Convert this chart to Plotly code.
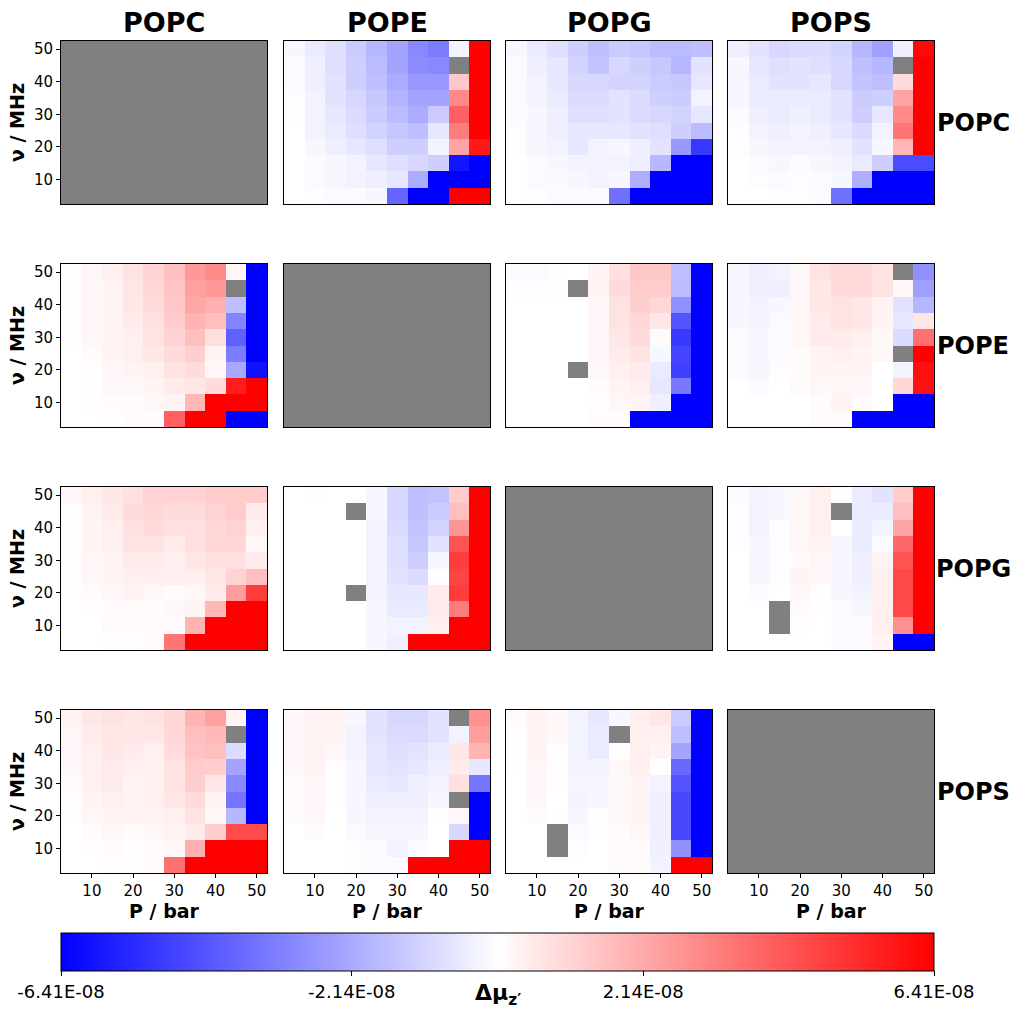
import plotly.graph_objects as go

# Grid of simulated conditions
pressure = [5, 10, 15, 20, 25, 30, 35, 40, 45, 50]      # P / bar (columns)
frequency = [5, 10, 15, 20, 25, 30, 35, 40, 45, 50]     # nu / MHz (rows)
lipids = ["POPC", "POPE", "POPG", "POPS"]

colorbar_ticks = [-6.41, -2.14, 2.14, 6.41]             # in units of 1e-8
colorbar_ticktext = ["-6.41E-08", "-2.14E-08", "2.14E-08", "6.41E-08"]
zlim = 6.41

N = None  # missing value

# Delta mu_z' (units of 1e-8). Rows listed from nu = 50 MHz down to nu = 5 MHz.
dmu_popc_pope = [
    [-0.2, -0.5, -0.8, -1.3, -1.8, -2.3, -3.0, -3.3, -0.3, 7.5],
    [-0.1, -0.4, -0.8, -1.2, -1.7, -2.3, -2.9, -3.0, N, 7.5],
    [-0.1, -0.4, -0.7, -1.2, -1.6, -2.1, -2.6, -2.6, 1.4, 7.5],
    [-0.05, -0.3, -0.7, -1.0, -1.4, -1.9, -2.3, -2.3, 3.0, 7.5],
    [-0.05, -0.3, -0.6, -0.9, -1.3, -1.7, -2.1, -1.3, 4.0, 7.5],
    [0.0, -0.3, -0.5, -0.8, -1.1, -1.4, -1.6, -0.6, 3.3, 7.5],
    [0.0, -0.2, -0.4, -0.6, -0.8, -1.2, -1.2, -0.3, 2.3, 5.8],
    [0.0, -0.1, -0.2, -0.3, -0.6, -0.8, -1.0, -1.2, -5.9, -7.5],
    [0.0, -0.1, -0.2, -0.3, -0.4, -0.6, -2.1, -7.5, -7.5, -7.5],
    [0.0, -0.05, -0.1, -0.1, -0.2, -3.9, -7.5, -7.5, 7.5, 7.5],
]
dmu_popc_popg = [
    [-0.2, -0.5, -0.8, -1.2, -1.6, -1.3, -1.4, -1.7, -1.7, -1.6],
    [-0.1, -0.4, -0.6, -1.1, -1.5, -1.0, -1.2, -1.4, -1.8, -0.7],
    [-0.1, -0.3, -0.6, -1.0, -1.0, -1.1, -1.1, -1.3, -1.4, -0.6],
    [-0.1, -0.3, -0.5, -0.9, -0.9, -0.7, -0.9, -1.2, -1.3, -0.3],
    [-0.1, -0.2, -0.4, -0.8, -0.8, -0.7, -0.9, -1.0, -1.1, -0.6],
    [-0.05, -0.2, -0.4, -0.6, -0.6, -0.6, -0.7, -0.8, -1.2, -1.7],
    [-0.05, -0.2, -0.3, -0.6, -0.3, -0.2, -0.4, -0.7, -2.6, -5.0],
    [0.0, -0.1, -0.2, -0.3, -0.3, -0.3, -0.4, -1.8, -7.5, -7.5],
    [0.0, -0.1, -0.15, -0.2, -0.3, -0.2, -2.0, -7.5, -7.5, -7.5],
    [0.0, -0.05, -0.1, -0.1, -0.1, -3.6, -7.5, -7.5, -7.5, -7.5],
]
dmu_popc_pops = [
    [-0.4, -0.7, -1.0, -0.9, -0.9, -1.1, -1.8, -2.4, -0.4, 6.2],
    [-0.2, -0.6, -0.8, -0.7, -0.8, -1.0, -1.6, -1.8, N, 7.5],
    [-0.2, -0.5, -0.7, -0.7, -0.6, -1.0, -1.5, -1.6, 0.9, 7.5],
    [-0.2, -0.5, -0.5, -0.5, -0.5, -0.7, -1.3, -1.2, 2.3, 7.5],
    [-0.1, -0.4, -0.5, -0.4, -0.5, -0.7, -1.2, -0.6, 3.0, 7.5],
    [-0.05, -0.3, -0.4, -0.3, -0.4, -0.6, -0.9, -0.3, 3.5, 7.5],
    [-0.05, -0.2, -0.3, -0.3, -0.3, -0.4, -0.7, -0.2, 1.8, 7.5],
    [0.0, -0.1, -0.2, -0.1, -0.2, -0.3, -0.5, -1.2, -4.5, -4.5],
    [0.0, -0.05, -0.1, -0.05, -0.1, -0.2, -2.0, -7.5, -7.5, -7.5],
    [0.0, 0.0, -0.05, -0.05, -0.1, -3.6, -7.5, -7.5, -7.5, -7.5],
]
dmu_pope_popc = [
    [0.05, 0.2, 0.4, 0.7, 1.1, 1.6, 2.6, 3.0, 0.2, -7.5],
    [0.05, 0.2, 0.3, 0.6, 1.0, 1.5, 2.4, 2.6, N, -7.5],
    [0.05, 0.2, 0.3, 0.6, 0.9, 1.4, 2.2, 2.0, -1.6, -7.5],
    [0.05, 0.2, 0.3, 0.5, 0.8, 1.3, 1.9, 1.6, -3.1, -7.5],
    [0.05, 0.2, 0.3, 0.4, 0.7, 1.1, 1.6, 0.8, -4.0, -7.5],
    [0.0, 0.1, 0.3, 0.4, 0.6, 0.9, 1.2, 0.3, -3.3, -7.5],
    [0.0, 0.05, 0.2, 0.3, 0.4, 0.7, 0.9, 0.2, -2.2, -6.0],
    [0.0, 0.05, 0.2, 0.2, 0.3, 0.5, 0.6, 0.9, 5.7, 7.5],
    [0.0, 0.05, 0.1, 0.1, 0.2, 0.3, 1.8, 7.5, 7.5, 7.5],
    [0.0, 0.0, 0.05, 0.1, 0.1, 4.0, 7.5, 7.5, -7.5, -7.5],
]
dmu_pope_popg = [
    [-0.1, -0.1, -0.05, 0.0, 0.3, 0.8, 1.4, 1.4, -1.6, -7.5],
    [-0.05, -0.05, -0.05, N, 0.3, 0.9, 1.3, 1.3, -1.7, -7.5],
    [0.0, 0.0, 0.0, 0.0, 0.2, 0.7, 1.2, 1.0, -2.8, -7.5],
    [0.0, 0.0, 0.0, 0.0, 0.2, 0.7, 1.0, 0.6, -4.3, -7.5],
    [0.0, 0.0, 0.0, 0.0, 0.2, 0.6, 0.9, 0.1, -5.0, -7.5],
    [0.0, 0.0, 0.0, 0.0, 0.2, 0.5, 0.7, -0.2, -4.7, -7.5],
    [0.0, 0.0, 0.0, N, 0.2, 0.4, 0.5, -0.5, -4.8, -7.5],
    [0.0, 0.0, 0.0, 0.0, 0.1, 0.3, 0.4, -0.6, -3.4, -7.5],
    [0.0, 0.0, 0.0, 0.0, 0.05, 0.2, 0.3, -0.4, -7.5, -7.5],
    [0.0, 0.0, 0.0, 0.0, 0.1, 0.1, -7.5, -7.5, -7.5, -7.5],
]
dmu_pope_pops = [
    [-0.2, -0.4, -0.3, 0.2, 0.7, 0.9, 0.9, 0.7, N, -2.8],
    [-0.2, -0.4, -0.4, 0.2, 0.6, 0.9, 0.9, 0.7, 0.2, -2.4],
    [-0.2, -0.3, -0.2, 0.2, 0.6, 0.7, 0.6, 0.3, -0.7, -1.8],
    [-0.2, -0.3, -0.1, 0.2, 0.5, 0.7, 0.6, 0.3, -0.6, 0.6],
    [-0.1, -0.2, -0.1, 0.2, 0.5, 0.5, 0.4, 0.2, -0.9, 3.6],
    [-0.1, -0.2, -0.1, 0.1, 0.3, 0.4, 0.3, 0.2, N, 7.5],
    [-0.1, -0.2, -0.05, 0.1, 0.3, 0.3, 0.3, 0.0, -0.3, 6.0],
    [0.0, -0.1, 0.0, 0.1, 0.2, 0.2, 0.2, 0.0, 1.0, 6.0],
    [0.0, 0.0, 0.0, 0.0, 0.1, 0.3, 0.1, 0.0, -7.5, -7.5],
    [0.0, 0.0, 0.0, 0.0, 0.1, 0.1, -7.5, -7.5, -7.5, -7.5],
]
dmu_popg_popc = [
    [0.2, 0.4, 0.6, 0.8, 1.1, 1.1, 1.1, 1.3, 1.3, 1.3],
    [0.05, 0.3, 0.5, 0.9, 1.0, 0.9, 0.9, 1.1, 1.3, 0.5],
    [0.05, 0.3, 0.4, 0.8, 0.9, 0.8, 0.8, 1.0, 1.1, 0.4],
    [0.05, 0.3, 0.4, 0.7, 0.7, 0.5, 0.8, 1.0, 1.0, 0.2],
    [0.05, 0.2, 0.3, 0.5, 0.5, 0.4, 0.6, 0.8, 0.8, 0.5],
    [0.05, 0.2, 0.3, 0.4, 0.4, 0.4, 0.4, 0.6, 1.1, 1.6],
    [0.05, 0.1, 0.2, 0.3, 0.2, 0.1, 0.2, 0.5, 2.5, 4.9],
    [0.0, 0.05, 0.1, 0.1, 0.1, 0.2, 0.3, 1.8, 7.5, 7.5],
    [0.0, 0.0, 0.1, 0.1, 0.1, 0.1, 1.9, 7.5, 7.5, 7.5],
    [0.0, 0.0, 0.05, 0.05, 0.1, 3.5, 7.5, 7.5, 7.5, 7.5],
]
dmu_popg_pope = [
    [0.0, 0.05, 0.0, 0.0, -0.2, -1.0, -1.6, -1.5, 1.3, 7.5],
    [0.0, 0.0, 0.0, N, -0.2, -1.0, -1.6, -1.3, 1.6, 7.5],
    [0.0, 0.0, 0.0, 0.0, -0.3, -0.9, -1.5, -1.1, 2.7, 7.5],
    [0.0, 0.0, 0.0, 0.0, -0.3, -0.8, -1.4, -0.7, 4.3, 7.5],
    [0.0, 0.0, 0.0, 0.0, -0.3, -0.8, -1.2, -0.2, 4.9, 7.5],
    [0.0, 0.0, 0.0, 0.0, -0.3, -0.7, -0.9, 0.05, 4.7, 7.5],
    [0.0, 0.0, 0.0, N, -0.3, -0.6, -0.6, 0.5, 4.9, 7.5],
    [0.0, 0.0, 0.0, 0.0, -0.2, -0.5, -0.5, 0.5, 3.3, 7.5],
    [0.0, 0.0, 0.0, 0.0, -0.2, -0.3, -0.3, 0.4, 7.5, 7.5],
    [0.0, 0.0, 0.0, 0.0, -0.2, -0.4, 7.5, 7.5, 7.5, 7.5],
]
dmu_popg_pops = [
    [-0.1, -0.3, -0.2, 0.2, 0.4, 0.05, -0.5, -0.7, 1.3, 7.5],
    [-0.05, -0.3, -0.2, 0.2, 0.4, N, -0.5, -0.5, 1.6, 7.5],
    [-0.05, -0.3, -0.05, 0.2, 0.4, 0.0, -0.5, -0.3, 2.3, 7.5],
    [-0.05, -0.2, -0.05, 0.2, 0.3, -0.2, -0.5, -0.1, 3.8, 7.5],
    [0.0, -0.2, -0.05, 0.1, 0.2, -0.2, -0.4, 0.3, 4.3, 7.5],
    [0.0, -0.2, -0.05, 0.3, 0.2, -0.2, -0.4, 0.4, 4.6, 7.5],
    [0.0, -0.1, 0.0, 0.2, 0.05, -0.2, -0.3, 0.4, 4.6, 7.5],
    [0.0, 0.0, N, 0.1, 0.05, -0.1, -0.2, 0.4, 4.6, 7.5],
    [0.0, 0.0, N, 0.05, 0.0, -0.1, -0.1, 0.4, 2.8, 7.5],
    [0.0, 0.0, 0.0, 0.0, 0.0, -0.1, -0.1, 0.3, -7.5, -7.5],
]
dmu_pops_popc = [
    [0.3, 0.6, 0.7, 0.6, 0.7, 1.0, 1.9, 2.4, 0.3, -7.5],
    [0.2, 0.5, 0.6, 0.6, 0.6, 1.0, 1.6, 1.8, N, -7.5],
    [0.2, 0.4, 0.6, 0.5, 0.4, 0.9, 1.5, 1.6, -0.9, -7.5],
    [0.2, 0.4, 0.5, 0.4, 0.4, 0.7, 1.3, 1.2, -2.3, -7.5],
    [0.1, 0.4, 0.5, 0.3, 0.4, 0.7, 1.2, 0.6, -3.0, -7.5],
    [0.05, 0.3, 0.4, 0.3, 0.4, 0.6, 0.9, 0.3, -3.5, -7.5],
    [0.05, 0.2, 0.3, 0.3, 0.3, 0.4, 0.7, 0.2, -1.8, -7.5],
    [0.0, 0.1, 0.2, 0.1, 0.2, 0.3, 0.5, 1.2, 4.5, 4.5],
    [0.0, 0.05, 0.1, 0.05, 0.1, 0.2, 2.0, 7.5, 7.5, 7.5],
    [0.0, 0.0, 0.05, 0.05, 0.1, 3.6, 7.5, 7.5, 7.5, 7.5],
]
dmu_pops_pope = [
    [0.2, 0.3, 0.3, -0.2, -0.7, -1.0, -1.0, -0.7, N, 2.8],
    [0.2, 0.3, 0.3, -0.3, -0.7, -0.9, -0.9, -0.7, -0.3, 2.5],
    [0.2, 0.3, 0.2, -0.3, -0.6, -0.8, -0.7, -0.5, 0.6, 1.9],
    [0.2, 0.3, 0.05, -0.2, -0.6, -0.7, -0.6, -0.4, 0.5, -0.6],
    [0.1, 0.2, 0.05, -0.2, -0.5, -0.6, -0.4, -0.3, 0.8, -3.5],
    [0.1, 0.2, 0.05, -0.2, -0.4, -0.4, -0.4, -0.2, N, -7.5],
    [0.1, 0.2, 0.0, -0.2, -0.3, -0.3, -0.3, -0.05, 0.2, -7.5],
    [0.0, 0.1, 0.0, -0.1, -0.2, -0.2, -0.2, 0.0, -1.0, -7.5],
    [0.0, 0.0, 0.0, -0.05, -0.1, -0.3, -0.1, 0.0, 7.5, 7.5],
    [0.0, 0.0, 0.0, -0.05, -0.1, -0.1, 7.5, 7.5, 7.5, 7.5],
]
dmu_pops_popg = [
    [0.1, 0.3, 0.2, -0.3, -0.6, -0.2, 0.4, 0.6, -1.3, -7.5],
    [0.05, 0.3, 0.2, -0.3, -0.5, N, 0.4, 0.4, -1.6, -7.5],
    [0.05, 0.3, 0.05, -0.3, -0.5, 0.05, 0.4, 0.3, -2.3, -7.5],
    [0.05, 0.2, 0.05, -0.3, -0.3, 0.2, 0.4, 0.05, -3.8, -7.5],
    [0.0, 0.2, 0.05, -0.2, -0.2, 0.2, 0.3, -0.3, -4.3, -7.5],
    [0.0, 0.2, 0.0, -0.3, -0.2, 0.2, 0.3, -0.4, -4.6, -7.5],
    [0.0, 0.1, 0.05, -0.2, -0.05, 0.2, 0.3, -0.4, -4.6, -7.5],
    [0.0, 0.0, N, -0.1, -0.05, 0.1, 0.2, -0.4, -4.6, -7.5],
    [0.0, 0.0, N, -0.05, 0.0, 0.1, 0.1, -0.4, -2.8, -7.5],
    [0.0, 0.0, 0.0, 0.0, 0.0, 0.1, 0.1, -0.3, 7.5, 7.5],
]

# (row lipid, column lipid) -> data; diagonal pairs have no data
panels = {
    (0, 1): dmu_popc_pope, (0, 2): dmu_popc_popg, (0, 3): dmu_popc_pops,
    (1, 0): dmu_pope_popc, (1, 2): dmu_pope_popg, (1, 3): dmu_pope_pops,
    (2, 0): dmu_popg_popc, (2, 1): dmu_popg_pope, (2, 3): dmu_popg_pops,
    (3, 0): dmu_pops_popc, (3, 1): dmu_pops_pope, (3, 2): dmu_pops_popg,
}

W, H = 1011, 1009
col_px = [(61, 267), (284, 490), (506, 712), (728, 934)]
row_px = [(41, 204), (264, 427), (487, 650), (710, 873)]

bwr = [[0.0, "rgb(0,0,255)"], [0.5, "rgb(255,255,255)"], [1.0, "rgb(255,0,0)"]]
FONT = "DejaVu Sans"

fig = go.Figure()
layout = {}
first = True
for r in range(4):
    for c in range(4):
        k = r * 4 + c + 1
        xname = "xaxis" if k == 1 else f"xaxis{k}"
        yname = "yaxis" if k == 1 else f"yaxis{k}"
        xref = "x" if k == 1 else f"x{k}"
        yref = "y" if k == 1 else f"y{k}"
        x0, x1 = col_px[c]
        y0, y1 = row_px[r]
        layout[xname] = dict(
            domain=[x0 / W, x1 / W], anchor=yref, range=[2.5, 52.5],
            showgrid=False, zeroline=False, mirror=True, showline=True,
            linecolor="black", linewidth=1,
            tickvals=[10, 20, 30, 40, 50] if r == 3 else [],
            ticks="outside" if r == 3 else "", ticklen=4, tickcolor="black",
            showticklabels=(r == 3),
            tickfont=dict(family=FONT, size=15, color="black"),
            title=dict(text="<b>P / bar</b>", font=dict(family=FONT, size=19, color="black"),
                       standoff=2) if r == 3 else None,
        )
        layout[yname] = dict(
            domain=[1 - y1 / H, 1 - y0 / H], anchor=xref, range=[2.5, 52.5],
            showgrid=False, zeroline=False, mirror=True, showline=True,
            linecolor="black", linewidth=1,
            tickvals=[10, 20, 30, 40, 50] if c == 0 else [],
            ticks="outside" if c == 0 else "", ticklen=4, tickcolor="black",
            showticklabels=(c == 0),
            tickfont=dict(family=FONT, size=15, color="black"),
            title=dict(text="<b>ν / MHz</b>", font=dict(family=FONT, size=19, color="black"),
                       standoff=4) if c == 0 else None,
        )
        if (r, c) in panels:
            z = panels[(r, c)][::-1]
            fig.add_trace(go.Heatmap(
                x=pressure, y=frequency, z=z, xaxis=xref, yaxis=yref,
                colorscale=bwr, zmin=-zlim, zmax=zlim, hoverongaps=False,
                showscale=first,
                colorbar=dict(
                    orientation="h", x=(61 + 934) / 2 / W, xanchor="center",
                    y=1 - 933 / H, yanchor="top", len=(934 - 61) / W, lenmode="fraction",
                    thickness=38, thicknessmode="pixels", outlinecolor="black",
                    outlinewidth=1, xpad=0, ypad=0,
                    tickvals=colorbar_ticks, ticktext=colorbar_ticktext,
                    ticks="outside", ticklen=5, tickcolor="black",
                    tickfont=dict(family=FONT, size=18, color="black"),
                ),
            ))
            first = False
        else:
            # self-pair panels: empty axes showing only the grey background
            fig.add_trace(go.Scatter(x=[], y=[], xaxis=xref, yaxis=yref,
                                     mode="markers", showlegend=False))

annotations = []
for c, name in enumerate(lipids):
    x0, x1 = col_px[c]
    annotations.append(dict(
        text=f"<b>{name}</b>", x=(x0 + x1) / 2 / W, y=1 - 22 / H, xref="paper", yref="paper",
        xanchor="center", yanchor="middle", showarrow=False,
        font=dict(family=FONT, size=27, color="black"),
    ))
for r, name in enumerate(lipids):
    y0, y1 = row_px[r]
    annotations.append(dict(
        text=f"<b>{name}</b>", x=973 / W, y=1 - (y0 + y1) / 2 / H, xref="paper", yref="paper",
        xanchor="center", yanchor="middle", showarrow=False,
        font=dict(family=FONT, size=24, color="black"),
    ))
annotations.append(dict(
    text="<b>Δμ<sub>z′</sub></b>", x=(61 + 934) / 2 / W, y=1 - 994 / H,
    xref="paper", yref="paper", xanchor="center", yanchor="middle", showarrow=False,
    font=dict(family=FONT, size=22, color="black"),
))

fig.update_layout(
    width=W, height=H, margin=dict(l=0, r=0, t=0, b=0),
    paper_bgcolor="white", plot_bgcolor="rgb(128,128,128)",
    showlegend=False, annotations=annotations,
    font=dict(family=FONT, color="black"),
    **layout,
)

fig.write_html("out.html")
